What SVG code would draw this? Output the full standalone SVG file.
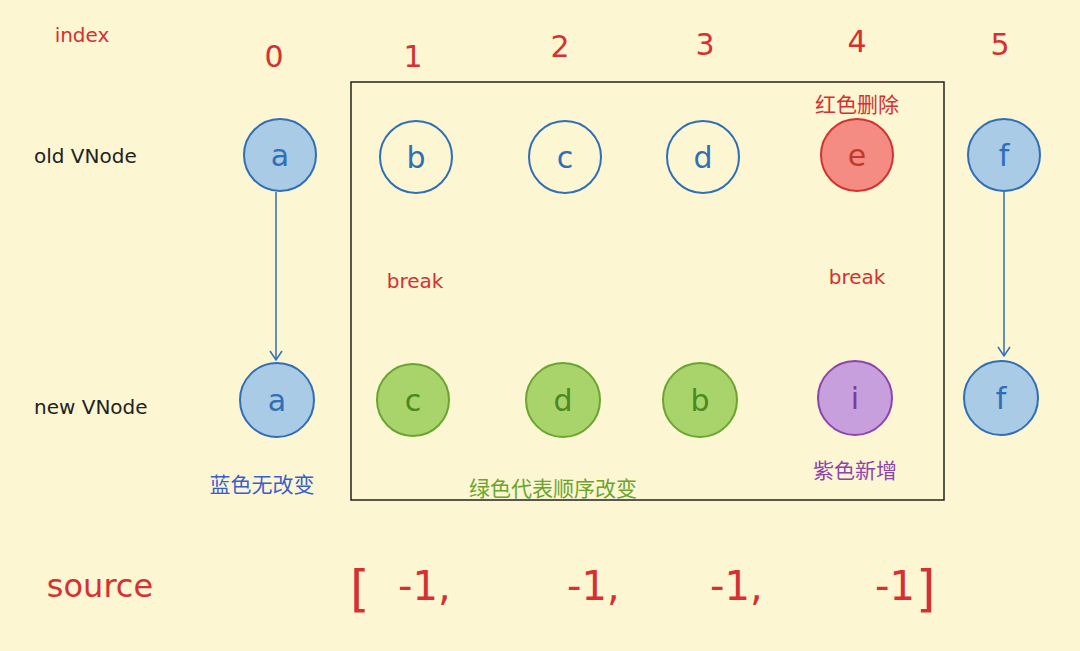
<svg xmlns="http://www.w3.org/2000/svg" width="1080" height="651" viewBox="0 0 1080 651">
<style>
text{font-family:"DejaVu Sans","Noto Sans CJK SC",sans-serif}
.red{fill:#d63031}
.lbl{font-size:20px;fill:#222}
.n{font-size:30px;text-anchor:middle}
.blue circle{fill:#a9cbe6;stroke:#2f6fb5;stroke-width:2}
.white circle{fill:none;stroke:#2f6fb5;stroke-width:2}
.green circle{fill:#a9d46c;stroke:#6aa52e;stroke-width:2}
.pink circle{fill:#f48c84;stroke:#d63031;stroke-width:2}
.purple circle{fill:#c79fdc;stroke:#8e44ad;stroke-width:2}
.letter{font-size:30px;fill:#2f6fb5;text-anchor:middle}
</style>
<defs><marker id="ah" markerWidth="14" markerHeight="14" refX="10" refY="7" orient="auto" markerUnits="userSpaceOnUse"><path d="M1,1 L10,7 L1,13" fill="none" stroke="#2f6fb5" stroke-width="1.5"/></marker></defs>
<rect width="1080" height="651" fill="#fdf6d3"/>
<rect x="351" y="82" width="593" height="418" fill="none" stroke="#222" stroke-width="1.5"/>
<text x="82" y="42" font-size="20" class="red" text-anchor="middle">index</text>
<g class="red">
<text x="274" y="67" class="n">0</text><text x="413" y="67" class="n">1</text><text x="560" y="57" class="n">2</text><text x="705" y="55" class="n">3</text><text x="857" y="52" class="n">4</text><text x="1000" y="55" class="n">5</text>
</g>
<text x="34" y="163" class="lbl">old VNode</text>
<text x="34" y="414" class="lbl">new VNode</text>
<g id="old-a" class="blue"><circle cx="280" cy="155" r="36"/><text x="280" y="166" class="letter">a</text></g>
<g id="old-b" class="white"><circle cx="416" cy="157" r="36"/><text x="416" y="168" class="letter">b</text></g>
<g id="old-c" class="white"><circle cx="565" cy="157" r="36"/><text x="565" y="168" class="letter">c</text></g>
<g id="old-d" class="white"><circle cx="703" cy="157" r="36"/><text x="703" y="168" class="letter">d</text></g>
<g id="old-e" class="pink"><circle cx="857" cy="155" r="36"/><text x="857" y="166" class="letter" style="fill:#c0392b">e</text></g>
<g id="old-f" class="blue"><circle cx="1004" cy="155" r="36"/><text x="1004" y="166" class="letter">f</text></g>
<g id="new-a" class="blue"><circle cx="277" cy="400" r="37"/><text x="277" y="411" class="letter">a</text></g>
<g id="new-c" class="green"><circle cx="413" cy="400" r="36"/><text x="413" y="411" class="letter" style="fill:#4a8a1e">c</text></g>
<g id="new-d" class="green"><circle cx="563" cy="400" r="37"/><text x="563" y="411" class="letter" style="fill:#4a8a1e">d</text></g>
<g id="new-b" class="green"><circle cx="700" cy="400" r="37"/><text x="700" y="411" class="letter" style="fill:#4a8a1e">b</text></g>
<g id="new-i" class="purple"><circle cx="855" cy="398" r="37"/><text x="855" y="409" class="letter" style="fill:#7d3c98">i</text></g>
<g id="new-f" class="blue"><circle cx="1001" cy="398" r="37"/><text x="1001" y="409" class="letter">f</text></g>
<g id="connectors" stroke="#2f6fb5" stroke-width="1.5" fill="none">
<line x1="276" y1="192" x2="276" y2="360" marker-end="url(#ah)"/>
<line x1="1004" y1="192" x2="1004" y2="356" marker-end="url(#ah)"/>
</g>
<text x="857" y="112" font-size="21" class="red" text-anchor="middle">红色删除</text>
<text x="415" y="288" font-size="20" class="red" text-anchor="middle">break</text>
<text x="857" y="284" font-size="20" class="red" text-anchor="middle">break</text>
<text x="262" y="492" font-size="21" fill="#3a5fcd" text-anchor="middle">蓝色无改变</text>
<text x="553" y="496" font-size="21" fill="#6aa52e" text-anchor="middle">绿色代表顺序改变</text>
<text x="855" y="478" font-size="21" fill="#8e44ad" text-anchor="middle">紫色新增</text>
<text x="100" y="597" font-size="32" class="red" text-anchor="middle">source</text>
<g class="red" font-size="40">
<text x="350" y="606" font-size="50">[</text><text x="398" y="600">-1,</text><text x="567" y="600">-1,</text><text x="710" y="600">-1,</text><text x="875" y="600">-1</text><text x="916" y="606" font-size="50">]</text>
</g>
</svg>
